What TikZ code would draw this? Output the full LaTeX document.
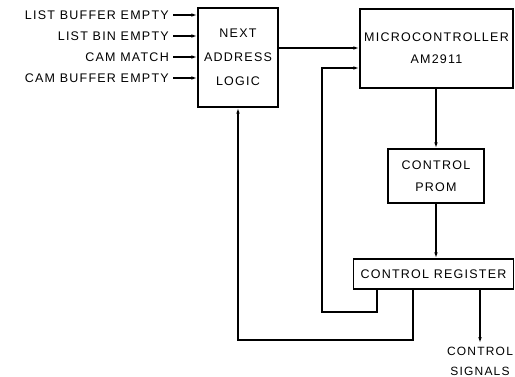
\documentclass[tikz,border=0pt]{standalone}
\usepackage{fontspec}
\usepackage{tikz}
\usetikzlibrary{arrows.meta, positioning, calc}
\newfontfamily\lettering[LetterSpace=10]{Liberation Sans}

\begin{document}
\begin{tikzpicture}[
    x=1pt, y=-1pt,
    box/.style={draw, line width=1.2pt, align=center, inner sep=0pt, font=\lettering\fontsize{12.5}{22}\selectfont},
    arrow/.style={-{Latex[length=6pt,width=3.5pt]}, line width=1.2pt},
    lbl/.style={anchor=east, inner xsep=4pt, font=\lettering\fontsize{12.5}{14}\selectfont}
]
    \useasboundingbox (0,0) rectangle (515,377);
    \node[box, minimum width=80pt, minimum height=99pt, font=\lettering\fontsize{12.5}{24}\selectfont] (nal) at (238,57.5) {NEXT\\ADDRESS\\LOGIC};
    \node[box, minimum width=153pt, minimum height=79pt] (mc) at (436.5,48.5) {MICROCONTROLLER\\AM2911};
    \node[box, minimum width=96pt, minimum height=54pt] (prom) at (436,176) {CONTROL\\PROM};
    \node[box, minimum width=160pt, minimum height=30pt] (creg) at (433.5,274) {CONTROL REGISTER};
    \node[lbl] (lbe) at (173,15) {LIST BUFFER EMPTY};
    \node[lbl] (lbin) at (173,36) {LIST BIN EMPTY};
    \node[lbl] (cm) at (173,57) {CAM MATCH};
    \node[lbl] (cbe) at (173,78) {CAM BUFFER EMPTY};
    \node[align=center, font=\lettering\fontsize{12}{20}\selectfont] (sig) at (480,361) {CONTROL\\SIGNALS};
    % inputs
    \draw[arrow] (lbe.east) -- (lbe.east -| nal.west);
    \draw[arrow] (lbin.east) -- (lbin.east -| nal.west);
    \draw[arrow] (cm.east) -- (cm.east -| nal.west);
    \draw[arrow] (cbe.east) -- (cbe.east -| nal.west);
    % main path
    \draw[arrow] (nal.east |- 0,48) -- (mc.west |- 0,48);
    \draw[arrow] (mc.south -| prom.north) -- (prom.north);
    \draw[arrow] (prom.south) -- (prom.south |- creg.north);
    \draw[arrow] (creg.south -| sig.north) -- (sig.north);
    % feedback loops
    \draw[arrow] ([xshift=-56.5pt]creg.south) |- (322,312) |- ([yshift=-19.5pt]mc.west);
    \draw[arrow] ([xshift=-20.5pt]creg.south) |- (nal.south |- 0,340) -- (nal.south);
\end{tikzpicture}
\end{document}
